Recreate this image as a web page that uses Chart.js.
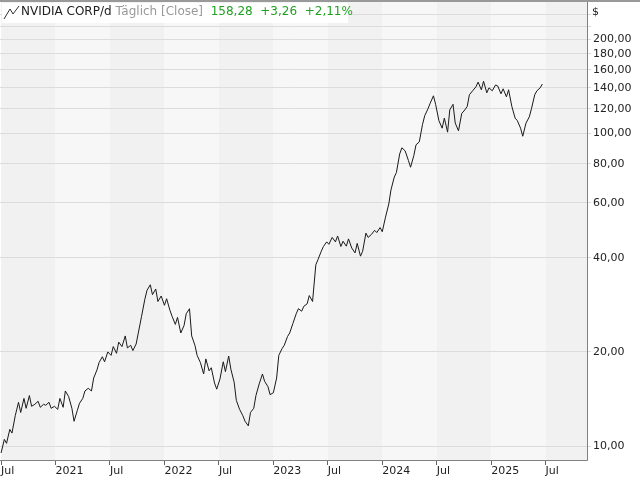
<!DOCTYPE html>
<html><head><meta charset="utf-8">
<script src="https://cdn.jsdelivr.net/npm/chart.js@4"></script>
<style>html,body{margin:0;padding:0;background:#fff}#w{width:640px;height:480px}</style>
</head><body><div id="w"><canvas id="c"></canvas></div>
<script>
// x positions in fractional years, prices in USD
const times = [2020.50,2020.53,2020.55,2020.58,2020.60,2020.63,2020.66,2020.68,2020.71,2020.73,2020.76,2020.78,2020.81,2020.84,2020.86,2020.89,2020.91,2020.94,2020.96,2020.99,
2021.02,2021.04,2021.07,2021.09,2021.12,2021.15,2021.17,2021.20,2021.22,2021.25,2021.27,2021.30,2021.33,2021.35,2021.38,2021.40,2021.43,2021.45,2021.48,2021.51,
2021.53,2021.56,2021.58,2021.61,2021.64,2021.66,2021.69,2021.71,2021.74,2021.76,2021.79,2021.82,2021.84,2021.87,2021.89,2021.92,2021.94,2021.97,2022.00,2022.02,
2022.05,2022.07,2022.10,2022.12,2022.15,2022.18,2022.20,2022.23,2022.25,2022.28,2022.30,2022.33,2022.36,2022.38,2022.41,2022.43,2022.46,2022.48,2022.51,2022.54,
2022.56,2022.59,2022.61,2022.64,2022.66,2022.69,2022.72,2022.74,2022.77,2022.79,2022.82,2022.84,2022.87,2022.90,2022.92,2022.95,2022.97,2023.00,2023.03,2023.05,
2023.08,2023.10,2023.13,2023.15,2023.18,2023.21,2023.23,2023.26,2023.28,2023.31,2023.33,2023.36,2023.39,2023.41,2023.44,2023.46,2023.49,2023.51,2023.54,2023.57,
2023.59,2023.62,2023.64,2023.67,2023.69,2023.72,2023.75,2023.77,2023.80,2023.82,2023.85,2023.87,2023.90,2023.93,2023.95,2023.98,2024.00,2024.03,2024.06,2024.08,
2024.11,2024.13,2024.16,2024.18,2024.21,2024.24,2024.26,2024.29,2024.31,2024.34,2024.37,2024.39,2024.42,2024.44,2024.47,2024.49,2024.52,2024.55,2024.57,2024.60,
2024.62,2024.65,2024.67,2024.70,2024.73,2024.75,2024.78,2024.80,2024.83,2024.86,2024.88,2024.91,2024.93,2024.96,2024.98,2025.01,2025.04,2025.06,2025.09,2025.11,
2025.14,2025.16,2025.19,2025.22,2025.24,2025.27,2025.29,2025.32,2025.35,2025.37,2025.40,2025.42,2025.45,2025.47];
const closes = [9.5,10.5,10.2,11.3,11.0,12.5,13.8,12.8,14.2,13.2,14.5,13.4,13.6,13.9,13.3,13.6,13.5,13.8,13.2,13.4,
13.1,14.2,13.3,15.0,14.4,13.2,12.0,13.0,13.7,14.2,15.0,15.3,15.0,16.5,17.5,18.5,19.3,18.6,20.0,19.5,
20.8,19.8,21.5,20.8,22.5,20.6,21.0,20.2,21.2,23.0,26.0,29.5,31.5,32.8,30.5,31.8,29.0,30.2,28.2,29.6,
27.2,26.0,24.5,25.8,23.0,24.3,26.5,27.5,22.5,21.0,19.5,18.5,17.0,19.0,17.4,17.8,15.9,15.2,16.4,18.6,
17.3,19.4,17.6,16.0,14.0,13.1,12.5,12.0,11.6,12.8,13.2,14.5,15.8,17.0,16.1,15.5,14.6,14.8,16.5,19.5,
20.5,21.0,22.4,23.0,24.7,26.5,27.5,27.0,28.0,28.5,30.3,29.0,38.0,39.5,42.0,43.5,45.0,44.2,46.5,45.0,
47.0,43.5,45.2,43.6,46.0,43.0,41.5,44.5,40.5,42.0,48.0,46.5,47.5,49.0,48.2,50.0,48.5,54.0,59.5,66.0,
72.5,75.0,86.0,90.0,88.0,82.0,78.0,85.0,92.0,94.0,107.0,114.0,120.0,125.0,132.0,124.0,110.0,104.0,112.0,101.0,
119.0,124.0,108.0,102.0,116.0,118.0,122.0,133.0,137.0,141.0,146.0,138.0,147.0,135.0,140.0,137.0,143.0,142.0,134.0,139.0,
131.0,138.0,122.0,112.0,110.0,104.0,98.0,108.0,113.0,120.0,133.0,137.0,140.0,144.0,148.0,154.0];
const tickValues = [10,20,40,60,80,100,120,140,160,180,200,220,240];
const labeledTicks = [10,20,40,60,80,100,120,140,160,180,200];
const xTickValues = [2020.5,2021,2021.5,2022,2022.5,2023,2023.5,2024,2024.5,2025,2025.5];

const bands = {id:'bands',beforeDraw(ch){const {ctx,chartArea:a,scales:{x}}=ch;ctx.save();
  for(let t=2020.5;t<2026;t+=0.5){const x0=Math.max(a.left,x.getPixelForValue(t)),x1=Math.min(a.right,x.getPixelForValue(t+0.5));
   ctx.fillStyle=(Math.round(t*2)%2===1)?'#f1f1f1':'#f7f7f7';ctx.fillRect(x0,2,x1-x0,a.bottom-2);}
  ctx.restore();}};
const deco = {id:'deco',afterDraw(ch){const {ctx,chartArea:a}=ch;ctx.save();
  ctx.strokeStyle='#808080';ctx.lineWidth=1;ctx.beginPath();ctx.moveTo(a.left,a.bottom+0.5);ctx.lineTo(a.right+0.5,a.bottom+0.5);ctx.lineTo(a.right+0.5,0);ctx.stroke();
  ctx.fillStyle='#999';ctx.fillRect(0,0,640,2);
  ctx.fillStyle='#fff';ctx.fillRect(2,3,346,20);
  ctx.font='12px "DejaVu Sans"';ctx.textBaseline='middle';let xx=5;
  ctx.strokeStyle='#333';ctx.beginPath();ctx.moveTo(4,19);ctx.lineTo(10,9);ctx.lineTo(13,14);ctx.lineTo(19,6);ctx.stroke();xx=21;
  const parts=[['NVIDIA CORP/d','#222'],[' Täglich [Close]','#999'],['  158,28','#22a022'],['  +3,26','#22a022'],['  +2,11%','#22a022']];
  for(const [s,c] of parts){ctx.fillStyle=c;ctx.fillText(s,xx,12);xx+=ctx.measureText(s).width;}
  ctx.fillStyle='#222';ctx.font='11px "DejaVu Sans"';ctx.fillText('$',592,12);
  ctx.restore();}};

new Chart(document.getElementById('c'),{type:'line',
 data:{datasets:[{data:times.map((t,i)=>({x:t,y:closes[i]})),borderColor:'#1a1a1a',borderWidth:1,pointRadius:0,tension:0}]},
 plugins:[bands,deco],
 options:{responsive:true,maintainAspectRatio:false,animation:false,
  plugins:{legend:{display:false},tooltip:{enabled:false}},
  scales:{
   x:{type:'linear',min:2020.49,max:2025.88,afterBuildTicks(s){s.ticks=xTickValues.map(v=>({value:v}));},
     grid:{display:true,drawOnChartArea:false,tickLength:5,color:'#666'},border:{display:false},
     afterFit(s){s.height=20;},
     ticks:{color:'#222',font:{family:'DejaVu Sans',size:11},padding:0,maxRotation:0,autoSkip:false,align:'start',
       callback:v=>(Math.abs(v-Math.round(v))<0.01?String(Math.round(v)):'Jul')}},
   y:{type:'logarithmic',position:'right',min:9.02,max:251,afterBuildTicks(s){s.ticks=tickValues.map(v=>({value:v}));},
     afterFit(s){s.width=53;},border:{display:false},
     grid:{color:'#dcdcdc',tickLength:4,drawTicks:true},
     ticks:{color:'#222',font:{family:'DejaVu Sans',size:11},padding:2,autoSkip:false,
       callback:v=>labeledTicks.includes(v)?v.toFixed(2).replace('.',','):''}}
  }}});
</script></body></html>
